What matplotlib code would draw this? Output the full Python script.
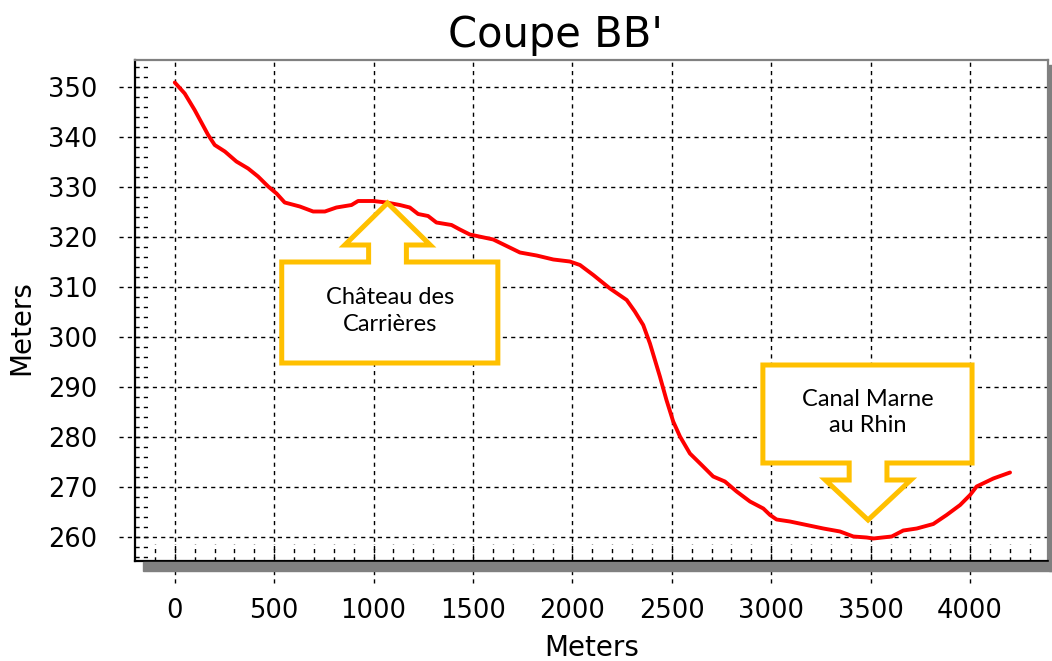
import numpy as np
import matplotlib.pyplot as plt
from matplotlib.patches import Polygon, Rectangle
from matplotlib.transforms import blended_transform_factory

# Profile along section BB' (distance in m, elevation in m)
dist = [0, 50, 100, 168, 201, 252, 310, 369, 419, 470, 512, 553, 629, 696, 755,
        813, 889, 922, 998, 1065, 1132, 1182, 1224, 1274, 1316, 1392, 1434, 1484,
        1602, 1669, 1736, 1820, 1904, 1987, 2038, 2105, 2189, 2273, 2314, 2356,
        2390, 2440, 2473, 2507, 2541, 2591, 2650, 2708, 2767, 2826, 2893, 2960,
        2994, 3027, 3094, 3178, 3262, 3346, 3413, 3480, 3513, 3606, 3664, 3732,
        3815, 3882, 3950, 4000, 4033, 4117, 4201]
elev = [350.9, 348.7, 345.4, 340.4, 338.4, 337.1, 335.1, 333.7, 332.1, 330.1,
        328.7, 326.9, 326.1, 325.1, 325.1, 325.9, 326.4, 327.2, 327.2, 326.9,
        326.4, 325.9, 324.6, 324.2, 322.9, 322.4, 321.5, 320.5, 319.5, 318.2,
        316.9, 316.3, 315.5, 315.1, 314.4, 312.4, 309.7, 307.4, 305.1, 302.4,
        298.7, 292.1, 287.4, 283.1, 280.1, 276.7, 274.4, 272.1, 271.1, 269.1,
        267.1, 265.7, 264.4, 263.5, 263.1, 262.4, 261.7, 261.1, 260.1, 259.9,
        259.7, 260.1, 261.3, 261.7, 262.6, 264.4, 266.4, 268.4, 270.1, 271.7,
        272.9]

x_ticks = [0, 500, 1000, 1500, 2000, 2500, 3000, 3500, 4000]
y_ticks = [260, 270, 280, 290, 300, 310, 320, 330, 340, 350]

# callouts: label, arrow tip (m, m), box extent, arrow-head base level
callouts = [
    {"text": "Château des\nCarrières", "tip": (1070, 326.8),
     "box": (538, 1625, 294.8, 315.0), "base": 318.4, "up": True},
    {"text": "Canal Marne\nau Rhin", "tip": (3487, 263.4),
     "box": (2958, 4010, 274.8, 294.4), "base": 271.4, "up": False},
]
HEAD_HALF = 215
STEM_HALF = 95
GOLD = "#FFC000"

fig = plt.figure(figsize=(10.52, 6.61), dpi=100)
ax = fig.add_axes([135 / 1052, 100 / 661, 913 / 1052, 501 / 661])

ax.set_xlim(-200, 4392)
ax.set_ylim(255.2, 355.4)
ax.set_xticks(x_ticks)
ax.set_yticks(y_ticks)
ax.tick_params(length=0, labelsize=18.5)
ax.tick_params(axis="x", pad=27)
ax.tick_params(axis="y", pad=27)

# dashed grid, running a little past the frame
dash = (0, (3, 3))
for xv in x_ticks:
    ax.axvline(xv, ymin=-0.044, ymax=1, color="black", lw=1, ls=dash,
               clip_on=False, zorder=1)
for yv in y_ticks:
    ax.axhline(yv, xmin=-0.017, xmax=1, color="black", lw=1, ls=dash,
               clip_on=False, zorder=1)

# dashed minor ticks along the inside of the left and bottom edges
bx = blended_transform_factory(ax.transData, ax.transAxes)
by = blended_transform_factory(ax.transAxes, ax.transData)
ax.vlines(np.arange(-100, 4392, 100), 0, 0.034, transform=bx,
          color="black", lw=1, ls=dash, zorder=1)
ax.hlines(np.arange(256, 355.4, 2), 0, 0.015, transform=by,
          color="black", lw=1, ls=dash, zorder=1)

ax.plot(dist, elev, color="#FF0000", lw=2.8, zorder=3,
        solid_joinstyle="round", solid_capstyle="round")

for c in callouts:
    tx, ty = c["tip"]
    x0, x1, y0, y1 = c["box"]
    b = c["base"]
    if c["up"]:
        pts = [(x0, y0), (x0, y1), (tx - STEM_HALF, y1), (tx - STEM_HALF, b),
               (tx - HEAD_HALF, b), (tx, ty), (tx + HEAD_HALF, b),
               (tx + STEM_HALF, b), (tx + STEM_HALF, y1), (x1, y1), (x1, y0)]
    else:
        pts = [(x0, y1), (x1, y1), (x1, y0), (tx + STEM_HALF, y0),
               (tx + STEM_HALF, b), (tx + HEAD_HALF, b), (tx, ty),
               (tx - HEAD_HALF, b), (tx - STEM_HALF, b),
               (tx - STEM_HALF, y0), (x0, y0)]
    ax.add_patch(Polygon(pts, closed=True, facecolor="white", edgecolor=GOLD,
                         lw=3.6, joinstyle="miter", zorder=4))
    ax.text((x0 + x1) / 2, (y0 + y1) / 2 + 0.3, c["text"], ha="center",
            va="center", fontsize=17, family="Lato", linespacing=1.3, zorder=5)

for s in ["left", "bottom"]:
    ax.spines[s].set_color("black")
    ax.spines[s].set_linewidth(1.6)
for s in ["top", "right"]:
    ax.spines[s].set_color("#808080")
    ax.spines[s].set_linewidth(1.6)

# drop shadow under and right of the frame
fig.patches.append(Rectangle((143 / 1052, (661 - 571) / 661), 910 / 1052, 9 / 661,
                             transform=fig.transFigure, color="#808080", zorder=0))
fig.patches.append(Rectangle((1049 / 1052, (661 - 571) / 661), 8 / 1052, 506 / 661,
                             transform=fig.transFigure, color="#808080", zorder=0))

ax.set_title("Coupe BB'", fontsize=30, pad=9, x=0.46)
ax.set_xlabel("Meters", fontsize=20)
ax.set_ylabel("Meters", fontsize=20)
ax.xaxis.set_label_coords(0.5, -0.145)
ax.yaxis.set_label_coords(-0.109, 0.465)

fig.savefig("out.png", dpi=100)
